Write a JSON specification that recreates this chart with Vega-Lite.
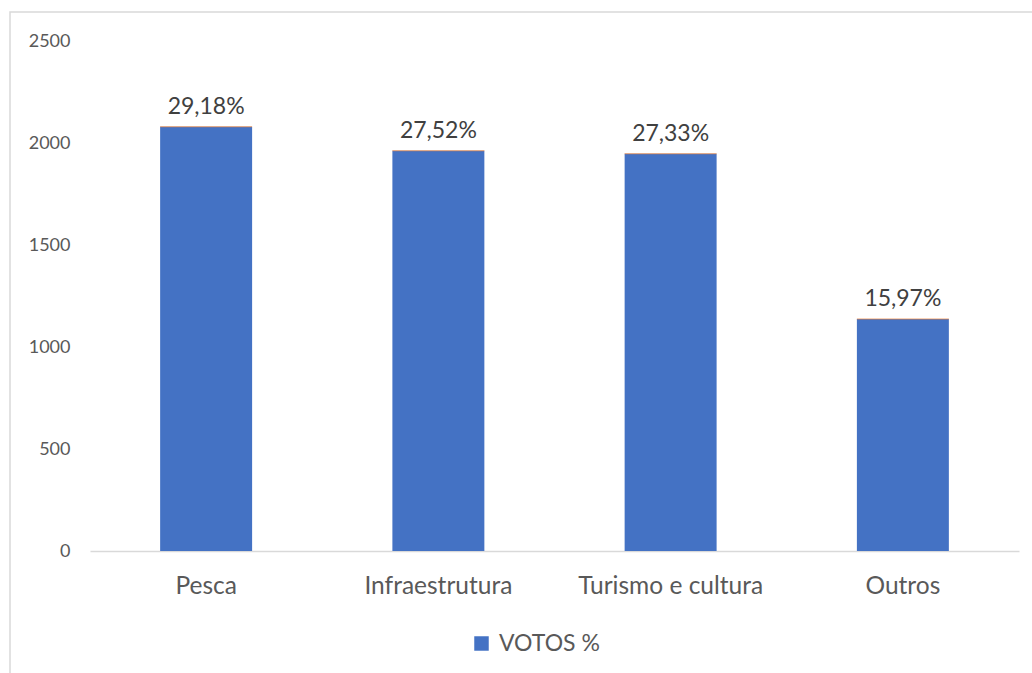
{
  "$schema": "https://vega.github.io/schema/vega-lite/v6.json",
  "width": 1040,
  "height": 680,
  "padding": {"left": 10, "top": 12, "right": 0, "bottom": 0},
  "background": "white",
  "config": {
    "view": {"stroke": "#d9d9d9", "strokeWidth": 1.5},
    "font": "Lato"
  },
  "data": {
    "values": [
      {"categoria": "Pesca", "votos": 2084, "rotulo": "29,18%", "serie": "VOTOS %"},
      {"categoria": "Infraestrutura", "votos": 1966, "rotulo": "27,52%", "serie": "VOTOS %"},
      {"categoria": "Turismo e cultura", "votos": 1951, "rotulo": "27,33%", "serie": "VOTOS %"},
      {"categoria": "Outros", "votos": 1140, "rotulo": "15,97%", "serie": "VOTOS %"}
    ]
  },
  "encoding": {
    "x": {
      "field": "categoria",
      "type": "nominal",
      "sort": null,
      "title": null,
      "scale": {"range": [80, 1009], "paddingInner": 0.604, "paddingOuter": 0.302},
      "axis": {
        "offset": -141,
        "domainColor": "#d9d9d9",
        "domainWidth": 1.5,
        "ticks": false,
        "tickSize": 0,
        "labelAngle": 0,
        "labelPadding": 23,
        "labelFontSize": 24.5,
        "labelLimit": 0,
        "labelOverlap": false,
        "labelColor": "#595959",
        "labelFont": "Lato",
        "grid": false
      }
    },
    "y": {
      "field": "votos",
      "type": "quantitative",
      "title": null,
      "scale": {"domain": [-692.5, 2647.3], "nice": false, "zero": false},
      "axis": {
        "values": [0, 500, 1000, 1500, 2000, 2500],
        "format": "d",
        "offset": -60,
        "domain": false,
        "ticks": false,
        "tickSize": 0,
        "labelPadding": 0,
        "labelFontSize": 18,
        "labelColor": "#595959",
        "labelFont": "Lato",
        "grid": false
      }
    }
  },
  "layer": [
    {
      "mark": {"type": "bar"},
      "encoding": {
        "y": {"field": "votos", "type": "quantitative"},
        "y2": {"datum": 0},
        "color": {
          "field": "serie",
          "type": "nominal",
          "title": null,
          "scale": {"range": ["#4472C4"]},
          "legend": {
            "orient": "none",
            "legendX": 460,
            "legendY": 620,
            "padding": 0,
            "symbolType": "square",
            "symbolSize": 210,
            "symbolStrokeWidth": 0,
            "labelFontSize": 23,
            "labelColor": "#595959",
            "labelFont": "Lato",
            "labelOffset": 6
          }
        }
      }
    },
    {
      "mark": {"type": "tick", "color": "#ed7d31", "thickness": 1, "size": 92, "opacity": 0.7},
      "encoding": {
        "y": {"field": "votos", "type": "quantitative"}
      }
    },
    {
      "mark": {"type": "text", "baseline": "alphabetic", "dy": -13, "fontSize": 23, "color": "#404040", "font": "Lato"},
      "encoding": {
        "text": {"field": "rotulo", "type": "nominal"}
      }
    }
  ]
}
